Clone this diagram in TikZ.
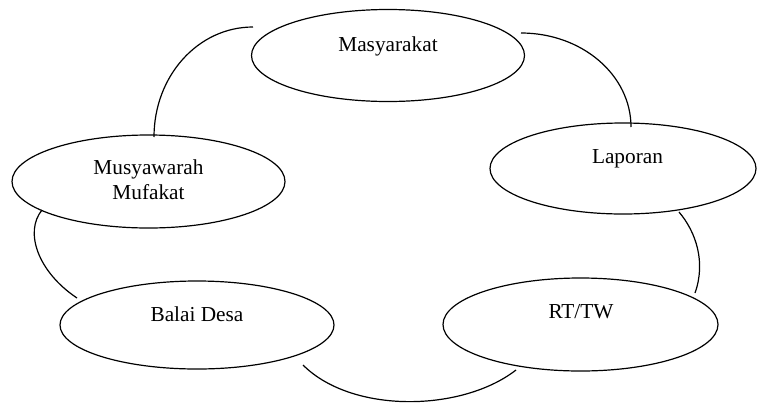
\documentclass[tikz,border=0pt]{standalone}
\usepackage{fontspec}
\setmainfont{Liberation Serif}
\usetikzlibrary{shapes.geometric}
\begin{document}
\begin{tikzpicture}[x=1pt,y=-1pt,
  oval/.style={ellipse,draw,line width=1.2pt,inner sep=0pt,outer sep=0pt},
  lbl/.style={font=\fontsize{21.3}{25}\selectfont,inner sep=0pt,align=center},
  link/.style={line width=1.2pt}]
\useasboundingbox (0,0) rectangle (757,405);
% ellipses
\node[oval,minimum width=273pt,minimum height=92pt] (mas) at (388,55.5) {};
\node[oval,minimum width=266pt,minimum height=91pt] (lap) at (623,168.5) {};
\node[oval,minimum width=273pt,minimum height=93pt] (mus) at (148.5,181.5) {};
\node[oval,minimum width=274pt,minimum height=88pt] (bal) at (197,325) {};
\node[oval,minimum width=275pt,minimum height=93pt] (rt) at (580.5,324.5) {};
% texts
\node[lbl,anchor=base] (mast) at (388,51.7) {Masyarakat};
\node[lbl,anchor=base] (lapt) at (627.5,163.3) {Laporan};
\node[lbl] (must) at (148.5,180.2) {Musyawarah\\Mufakat};
\node[lbl,anchor=base] (balt) at (197,321.7) {Balai Desa};
\node[lbl,anchor=base] (rtt) at (581,318.3) {RT/TW};
% connector ends
\coordinate (a1) at (154,137);
\coordinate (a2) at (253,27);
\coordinate (b1) at (521,33);
\coordinate (b2) at (631,127);
\coordinate (c1) at (679,212);
\coordinate (c2) at (695,293);
\coordinate (d1) at (516,370);
\coordinate (d2) at (303,365);
\coordinate (e1) at (77,298);
\coordinate (e2) at (42,210);
% connectors
\draw[link] (a1) .. controls (154,76) and (198,27) .. (a2);
\draw[link] (b1) .. controls (582,33) and (631,75) .. (b2);
\draw[link] (c1) .. controls (696,232) and (706,262) .. (c2);
\draw[link] (d1) .. controls (462,412) and (352,414) .. (d2);
\draw[link] (e1) .. controls (38,272) and (24,232) .. (e2);
\end{tikzpicture}
\end{document}
